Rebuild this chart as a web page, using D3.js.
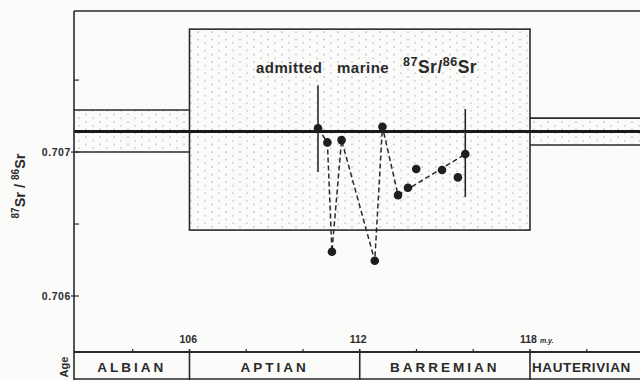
<!DOCTYPE html>
<html>
<head>
<meta charset="utf-8">
<script src="https://cdn.jsdelivr.net/npm/d3@7"></script>
<style>
  body { margin: 0; background: #fbfbfa; }
  svg { display: block; font-family: "Liberation Sans", Arial, sans-serif; }
</style>
</head>
<body>
<div id="chart"></div>
<script>
// measured samples (age in m.y., 87Sr/86Sr)
const ages = [110.53, 110.86, 111.02, 111.36, 112.53, 112.80, 113.35, 113.70, 113.99, 114.90, 115.46, 115.72];
const srValues = [0.707165, 0.707067, 0.706307, 0.707083, 0.706245, 0.707176, 0.706701, 0.706752, 0.706882, 0.706875, 0.706824, 0.706986];
// dashed connection goes through these samples, in this order
const dashedOrder = [0, 1, 2, 3, 4, 5, 6, 11];
// error bars
const errorIndex = [0, 11];
const errorLow = [0.706861, 0.706688];
const errorHigh = [0.707465, 0.707299];

const admittedMarine = 0.707142;

// stippled bands
const bandStart = [101.93, 106, 118];
const bandEnd = [106, 118, 122];
const bandLow = [0.707, 0.706458, 0.707049];
const bandHigh = [0.707292, 0.707854, 0.707236];
const bandBoxed = [false, true, false];

// stages
const stageNames = ['ALBIAN', 'APTIAN', 'BARREMIAN', 'HAUTERIVIAN'];
const stageBounds = [101.93, 106, 112, 118, 122];

const ageTicks = [106, 112, 118];
const ageMinorTicks = [104, 108, 110, 114, 116, 120];
const srTicks = [0.706, 0.707];
const srMinorTicks = [0.7065, 0.7075];

const W = 640, H = 380;
const ink = '#2a2a2a';

const svg = d3.select('#chart').append('svg')
  .attr('width', W).attr('height', H);

const defs = svg.append('defs');
const pat = defs.append('pattern')
  .attr('id', 'stipple')
  .attr('patternUnits', 'userSpaceOnUse')
  .attr('width', 14).attr('height', 7.5);
pat.append('circle').attr('cx', 2).attr('cy', 2).attr('r', 0.75).attr('fill', '#aaa');
pat.append('circle').attr('cx', 9).attr('cy', 5.75).attr('r', 0.75).attr('fill', '#b8b8b8');

const x = d3.scaleLinear().domain([101.93, 122]).range([74, 74 + 20.07 * 28.375]);
const y = d3.scaleLinear().domain([0.705611, 0.70798]).range([352, 11]);

const frameLeft = x(101.93);
const plotTop = y(0.70798);
const plotBottom = y(0.705611);

// bands
bandStart.forEach((s, i) => {
  const x0 = x(s), x1 = x(bandEnd[i]);
  const y0 = y(bandHigh[i]), y1 = y(bandLow[i]);
  svg.append('rect')
    .attr('x', x0).attr('y', y0)
    .attr('width', x1 - x0).attr('height', y1 - y0)
    .attr('fill', 'url(#stipple)');
  if (bandBoxed[i]) {
    svg.append('rect')
      .attr('x', x0).attr('y', y0)
      .attr('width', x1 - x0).attr('height', y1 - y0)
      .attr('fill', 'none').attr('stroke', ink).attr('stroke-width', 1.6);
  } else {
    [y0, y1].forEach(yy => {
      svg.append('line')
        .attr('x1', x0).attr('x2', x1).attr('y1', yy).attr('y2', yy)
        .attr('stroke', ink).attr('stroke-width', 1.6);
    });
  }
});

// admitted marine line
svg.append('line')
  .attr('x1', frameLeft).attr('x2', W)
  .attr('y1', y(admittedMarine)).attr('y2', y(admittedMarine))
  .attr('stroke', '#1a1a1a').attr('stroke-width', 3);

const label = svg.append('text')
  .attr('y', 73)
  .attr('font-size', 15).attr('font-weight', 'bold').attr('fill', ink)
  .attr('letter-spacing', 0.5);
label.append('tspan').attr('x', 256).text('admitted');
label.append('tspan').attr('x', 337).text('marine');
label.append('tspan').attr('x', 403).attr('font-size', 12.5).attr('dy', -7).text('87');
label.append('tspan').attr('dy', 7).attr('font-size', 17.5).text('Sr/');
label.append('tspan').attr('font-size', 12.5).attr('dy', -7).text('86');
label.append('tspan').attr('dy', 7).attr('font-size', 17.5).text('Sr');

// frame
svg.append('line')
  .attr('x1', frameLeft).attr('x2', W).attr('y1', plotTop).attr('y2', plotTop)
  .attr('stroke', ink).attr('stroke-width', 1.6);
svg.append('line')
  .attr('x1', frameLeft).attr('x2', frameLeft).attr('y1', plotTop).attr('y2', H)
  .attr('stroke', ink).attr('stroke-width', 1.6);

// y ticks
srTicks.forEach(v => {
  svg.append('line')
    .attr('x1', frameLeft - 3).attr('x2', frameLeft + 5)
    .attr('y1', y(v)).attr('y2', y(v))
    .attr('stroke', ink).attr('stroke-width', 1.2);
  svg.append('text')
    .attr('x', frameLeft - 3).attr('y', y(v) + 4)
    .attr('text-anchor', 'end')
    .attr('font-size', 10.5).attr('font-weight', 'bold').attr('fill', ink)
    .attr('letter-spacing', 0.6)
    .text(d3.format('.3f')(v));
});
srMinorTicks.forEach(v => {
  svg.append('line')
    .attr('x1', frameLeft).attr('x2', frameLeft + 5)
    .attr('y1', y(v)).attr('y2', y(v))
    .attr('stroke', ink).attr('stroke-width', 1.2);
});

// y axis title
const yt = svg.append('text')
  .attr('transform', 'translate(25,186) rotate(-90)')
  .attr('text-anchor', 'middle')
  .attr('font-size', 14.5).attr('font-weight', 'bold').attr('fill', ink);
yt.append('tspan').attr('font-size', 10).attr('dy', -6).text('87');
yt.append('tspan').attr('dy', 6).text('Sr / ');
yt.append('tspan').attr('font-size', 10).attr('dy', -6).text('86');
yt.append('tspan').attr('dy', 6).text('Sr');

// dashed connection
const dashedLine = d3.line()
  .x(i => x(ages[i]))
  .y(i => y(srValues[i]));
svg.append('path')
  .datum(dashedOrder)
  .attr('d', dashedLine)
  .attr('fill', 'none').attr('stroke', ink)
  .attr('stroke-width', 1.5).attr('stroke-dasharray', '5,3');

// error bars
errorIndex.forEach((idx, k) => {
  svg.append('line')
    .attr('x1', x(ages[idx])).attr('x2', x(ages[idx]))
    .attr('y1', y(errorHigh[k])).attr('y2', y(errorLow[k]))
    .attr('stroke', ink).attr('stroke-width', 1.6);
});

// points
svg.selectAll('.pt')
  .data(ages)
  .enter().append('circle')
  .attr('class', 'pt')
  .attr('cx', d => x(d))
  .attr('cy', (d, i) => y(srValues[i]))
  .attr('r', 4.3)
  .attr('fill', '#1e1e1e');

// age band
svg.append('line')
  .attr('x1', frameLeft).attr('x2', W).attr('y1', plotBottom).attr('y2', plotBottom)
  .attr('stroke', ink).attr('stroke-width', 2);
svg.append('line')
  .attr('x1', frameLeft).attr('x2', W).attr('y1', H - 1).attr('y2', H - 1)
  .attr('stroke', ink).attr('stroke-width', 1.5);

ageMinorTicks.forEach(a => {
  svg.append('line')
    .attr('x1', x(a)).attr('x2', x(a))
    .attr('y1', plotBottom - 3).attr('y2', plotBottom)
    .attr('stroke', ink).attr('stroke-width', 1.2);
});
ageTicks.forEach(a => {
  svg.append('line')
    .attr('x1', x(a)).attr('x2', x(a))
    .attr('y1', plotBottom - 3).attr('y2', H)
    .attr('stroke', ink).attr('stroke-width', 1.6);
  const t = svg.append('text')
    .attr('x', x(a) - 10).attr('y', plotBottom - 9)
    .attr('font-size', 10.5).attr('font-weight', 'bold').attr('fill', ink)
    .text(a);
  if (a === 118) {
    t.append('tspan').attr('font-size', 7).attr('font-style', 'italic').attr('dx', 3).text('m.y.');
  }
});

stageNames.forEach((name, i) => {
  const last = i === stageNames.length - 1;
  svg.append('text')
    .attr('x', last ? x(stageBounds[i]) + 2 : (x(stageBounds[i]) + x(stageBounds[i + 1])) / 2)
    .attr('y', 372)
    .attr('text-anchor', last ? 'start' : 'middle')
    .attr('font-size', 13.5).attr('font-weight', 'bold').attr('fill', ink)
    .attr('letter-spacing', last ? 0.6 : 3)
    .text(name);
});

svg.append('text')
  .attr('transform', 'translate(68,367) rotate(-90)')
  .attr('text-anchor', 'middle')
  .attr('font-size', 11).attr('font-weight', 'bold').attr('fill', ink)
  .text('Age');
</script>
</body>
</html>
